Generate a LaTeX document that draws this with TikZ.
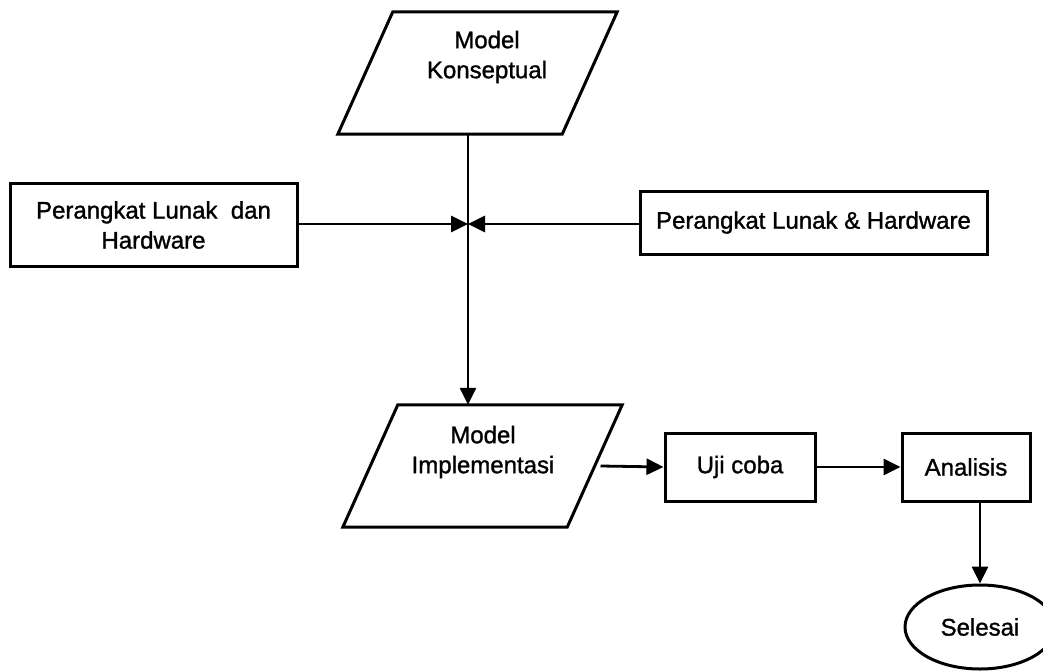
\documentclass[tikz,border=0pt]{standalone}
\usepackage{fontspec}
\setmainfont{Liberation Sans}[FakeBold=1.2]
\usetikzlibrary{arrows.meta,shapes.geometric}
\begin{document}
\begin{tikzpicture}[x=1pt,y=-1pt,
  every node/.style={font=\fontsize{24}{30}\selectfont, inner sep=0pt},
  outline/.style={draw, line width=3pt, line join=miter},
  box/.style={outline, rectangle},
  % parallelogram core: unslanted rectangle that carries the name
  iobox/.style={rectangle, minimum width=224pt, minimum height=122pt},
  endbox/.style={outline, ellipse, minimum width=150pt, minimum height=84pt},
  conn/.style={line width=2.8pt},
  arr/.style={conn, -{Triangle[length=17pt,width=16pt]}}
]
\useasboundingbox (0,0) rectangle (1043,671);

% input / output shapes
\node[iobox] (konsep) at (477.5,73) {};
\node[iobox] (impl) at (482.5,466) {};
\foreach \n in {konsep,impl}
  \draw[outline] ([xshift=27.5pt]\n.north west) -- ([xshift=27.5pt]\n.north east)
    -- ([xshift=-27.5pt]\n.south east) -- ([xshift=-27.5pt]\n.south west) -- cycle;
\node[align=center] (konsepTxt) at (487,57) {Model\\Konseptual};
\node[align=center] (implTxt) at (483,452) {Model\\Implementasi};

% side boxes
\node[box, minimum width=287pt, minimum height=82pt, align=center] (lunakL) at (153.5,225)
  {Perangkat Lunak\ \ dan\\Hardware};
\node[box, minimum width=347pt, minimum height=63pt] (lunakR) at (813.5,222.5)
  {Perangkat Lunak \& Hardware};

% process boxes
\node[box, minimum width=150pt, minimum height=68pt] (uji) at (740,467) {Uji coba};
\node[box, minimum width=128pt, minimum height=68pt] (analisis) at (966,467) {Analisis};
\node[endbox] (selesai) at (980,627) {Selesai};

% junction on the main vertical line
\coordinate (junc) at (468,224);

% connectors
\draw[arr] (junc |- konsep.south) -- (junc |- impl.north);
\draw[arr] (lunakL.east |- junc) -- (junc);
\draw[arr] (lunakR.west |- junc) -- (junc);
\draw[arr] ([xshift=118pt]impl.center) -- (uji.west);
\draw[arr] (uji.east) -- (analisis.west);
\draw[arr] (selesai.north |- analisis.south) -- (selesai.north);
\end{tikzpicture}
\end{document}
